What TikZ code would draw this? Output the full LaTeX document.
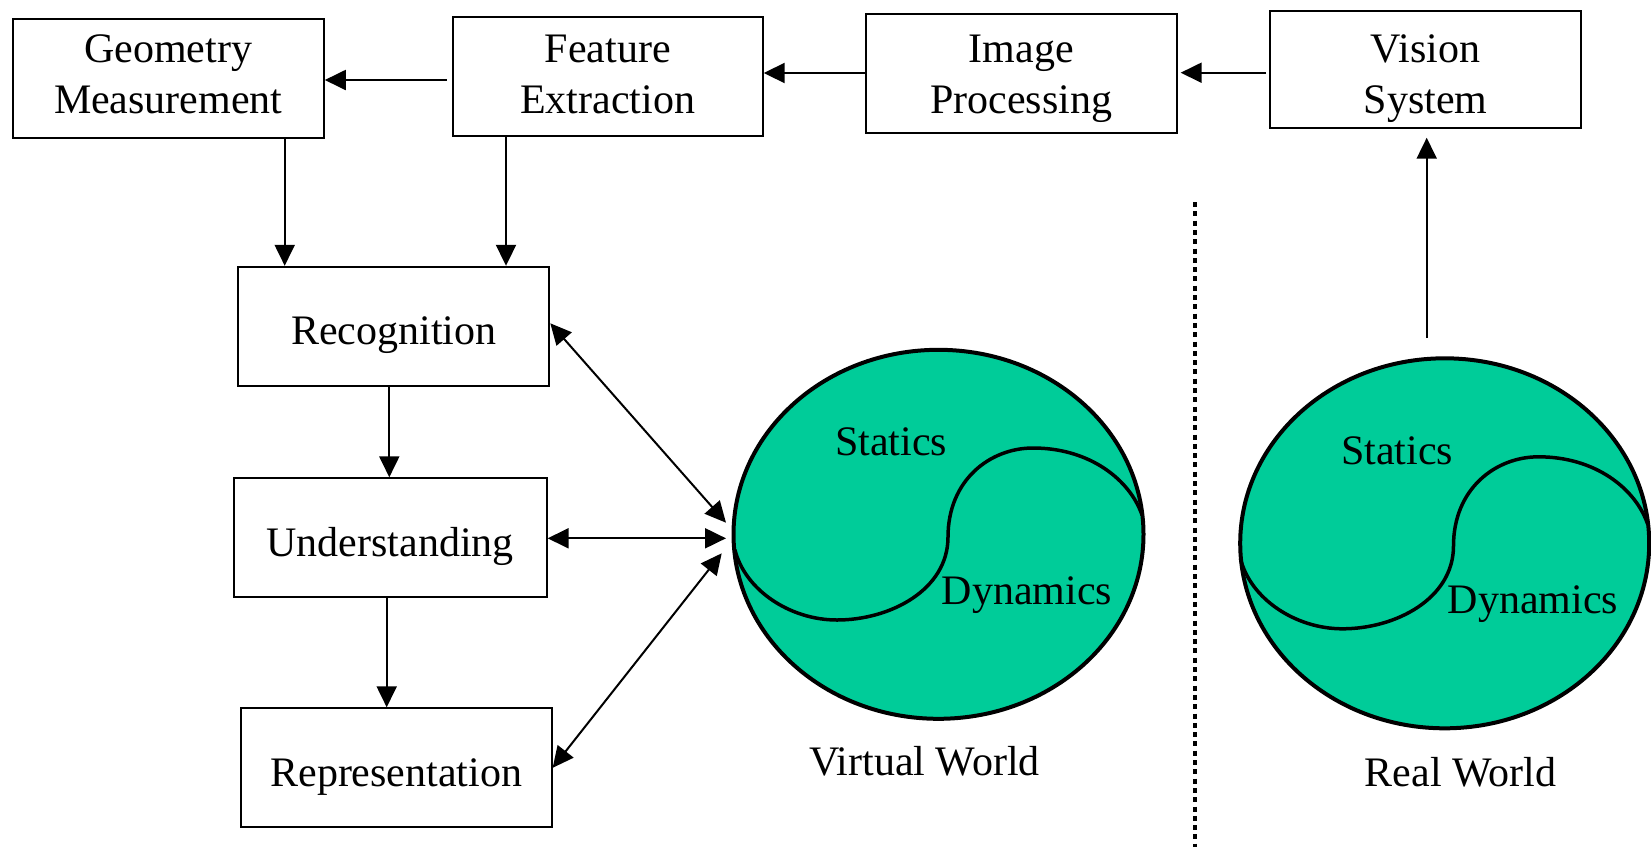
\documentclass[tikz,border=0pt]{standalone}
\usepackage{fontspec}
\setmainfont{Liberation Serif}
\usetikzlibrary{arrows.meta,shapes.geometric}
\definecolor{worldgreen}{RGB}{0,204,153}
% invisible rule of given height (#1) and depth (#2) to fix a line's extent
\newcommand{\linerule}[2]{\rule[-#2]{0pt}{\dimexpr#1+#2\relax}}

\begin{document}
\begin{tikzpicture}[x=1pt,y=-1pt,
  every node/.style={font=\fontsize{42}{50.6}\selectfont},
  block/.style={draw, line width=2pt, minimum width=311pt, minimum height=119pt,
    align=center, inner sep=0pt},
  world/.style={ellipse, draw, line width=4pt, fill=worldgreen,
    minimum width=410pt, minimum height=369pt, inner sep=0pt},
  tip/.style={Triangle[length=21pt,width=20pt]},
  link/.style={line width=2pt, -{Triangle[length=21pt,width=20pt]}},
  dlink/.style={line width=2pt,
    {Triangle[length=21pt,width=20pt]}-{Triangle[length=21pt,width=20pt]}},
  seam/.style={line width=3.5pt, line cap=round, line join=round},
  wtext/.style={anchor=base, inner sep=0pt}
]
\useasboundingbox (0,0) rectangle (1651,847);

% processing chain
\node[block] (geo) at (168.3,78.8)
  {\linerule{30pt}{0pt}Geometry\\Measurement\linerule{0pt}{11.6pt}};
\node[block, minimum width=310pt, minimum height=118.7pt] (fe) at (607.7,76.7)
  {\linerule{32pt}{0pt}Feature\\Extraction\linerule{0pt}{9.4pt}};
\node[block, minimum width=310.7pt] (ip) at (1021.3,73.7)
  {\linerule{38pt}{0pt}Image\\Processing\linerule{0pt}{9.4pt}};
\node[block, minimum height=117.6pt] (vs) at (1425.5,69.5)
  {\linerule{47pt}{0pt}Vision\\System\linerule{0pt}{10pt}};

\node[block] (rec) at (393.8,326.3) {\linerule{47pt}{10pt}Recognition};
\node[block, minimum width=312.7pt, minimum height=118.4pt] (und) at (390.3,537.5)
  {\linerule{47pt}{10pt}Understanding};
\node[block, minimum width=310.7pt] (rep) at (396.3,767.8)
  {\linerule{47pt}{10pt}Representation};

% virtual world
\node[world] (vw) at (938.5,534.3) {};
\draw[seam] (735,550) .. controls (745,590) and (790,620) .. (837,620)
  .. controls (890,620) and (948,590) .. (948,537)
  .. controls (948,480) and (990,448) .. (1033,448)
  .. controls (1090,448) and (1130,480) .. (1142,515);
\node[wtext] (vst) at (891,455) {Statics};
\node[wtext] (vdy) at (1027,604) {Dynamics};
\node[wtext] (vwl) at (924.5,775) {Virtual World};

% real world
\node[world, minimum width=409pt, minimum height=370pt] (rw) at (1444.7,543.3) {};
\begin{scope}[shift={(505.5,8.8)}]
\draw[seam] (735,550) .. controls (745,590) and (790,620) .. (837,620)
  .. controls (890,620) and (948,590) .. (948,537)
  .. controls (948,480) and (990,448) .. (1033,448)
  .. controls (1090,448) and (1130,480) .. (1142,515);
\end{scope}
\node[wtext] (rst) at (1397,464) {Statics};
\node[wtext] (rdy) at (1533,613) {Dynamics};
\node[wtext] (rwl) at (1460.5,786) {Real World};

% separator between the two worlds
\coordinate (sepTop) at (1195,202);
\coordinate (sepBot) at (1195,847);
\draw[line width=4.5pt, dash pattern=on 5pt off 4.3pt] (sepTop) -- (sepBot);

% connectors along the top row
\draw[link] ([xshift=-5pt,yshift=-1.2pt]fe.west |- geo.east) -- ([yshift=-1.2pt]geo.east);
\draw[link] (ip.west |- 0,73) -- (fe.east |- 0,73);
\draw[link] ([xshift=-3pt]vs.west |- 0,72.7) -- ([xshift=3pt]ip.east |- 0,72.7);
\coordinate (rwtop) at (1426.7,338);
\draw[link] (rwtop) -- ([yshift=-8.4pt]rwtop |- vs.south);

% connectors down the left column
\draw[link] ([xshift=116.4pt]geo.south) -- ([xshift=116.4pt]geo.south |- rec.north);
\draw[link] ([xshift=-101.7pt]fe.south) -- ([xshift=-101.7pt]fe.south |- rec.north);
\draw[link] ([xshift=-1pt]und.north |- rec.south) -- ([xshift=-1pt]und.north);
\draw[link] ([xshift=-3.6pt]und.south) -- ([xshift=-3.6pt]und.south |- rep.north);

% links between the left column and the virtual world
\coordinate (vw1) at (726,522.7);
\coordinate (vw2) at (726,538.3);
\coordinate (vw3) at (721.7,553.3);
\draw[dlink] ([yshift=3pt]rec.east) -- (vw1);
\draw[dlink] (und.east |- vw2) -- (vw2);
\draw[dlink] (rep.east) -- (vw3);
\end{tikzpicture}
\end{document}
